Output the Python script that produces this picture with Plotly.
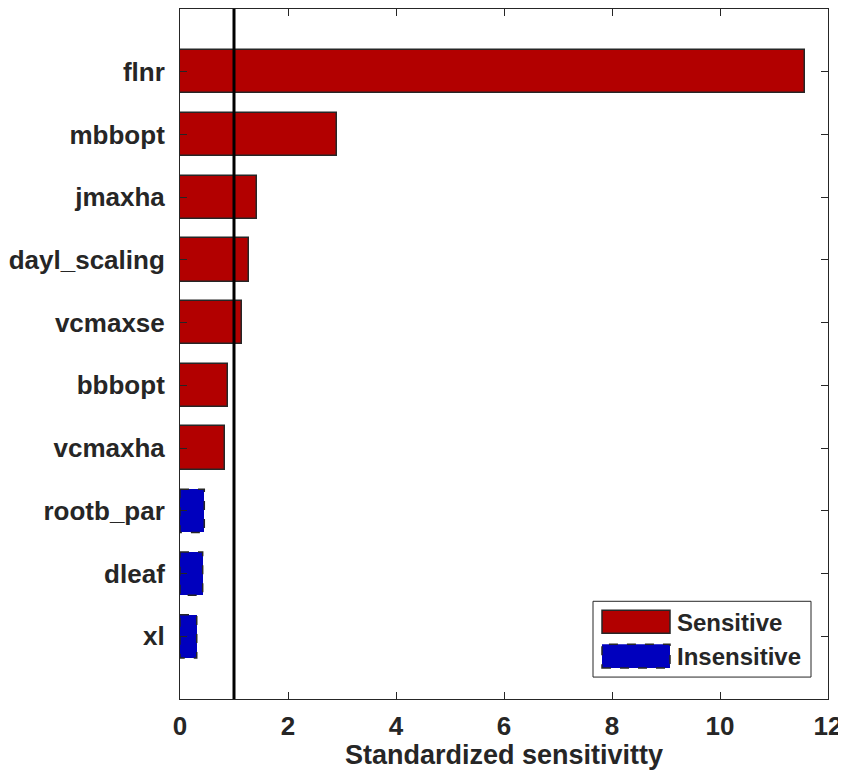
import plotly.graph_objects as go

categories = ["flnr", "mbbopt", "jmaxha", "dayl_scaling", "vcmaxse",
              "bbbopt", "vcmaxha", "rootb_par", "dleaf", "xl"]
sensitivity = [11.57, 2.90, 1.43, 1.27, 1.15, 0.89, 0.83, 0.45, 0.42, 0.31]
threshold = 1.0
x_ticks = [0, 2, 4, 6, 8, 10, 12]

sens_cats = [c for c, v in zip(categories, sensitivity) if v >= threshold * 0.8]
sens_vals = [v for v in sensitivity if v >= threshold * 0.8]
ins_cats = [c for c, v in zip(categories, sensitivity) if v < threshold * 0.8]
ins_vals = [v for v in sensitivity if v < threshold * 0.8]

RED = "rgb(178,0,0)"
BLUE = "rgb(0,0,190)"
EDGE = "rgb(38,38,38)"
BAR_W = 0.69
FONT = dict(family="Liberation Sans, Arial, sans-serif", size=26, color="rgb(38,38,38)", weight="bold")

# the page keeps its default 8px body margin; the figure is sized so the page
# fits the window and the plot area lands where the reference has it
BODY = 8
W, H = 846 - BODY, 778 - 2 * BODY
PL, PR, PT, PB = 180, 828, 8, 700   # plot area in page pixels
ml, mt = PL - BODY, PT - BODY
mr, mb = W - (PR - BODY), H - (PB - BODY)
pw, ph = PR - PL, PB - PT

def px(x):
    return (x - PL) / pw

def py(y):
    return 1 - (y - PT) / ph

fig = go.Figure()
fig.add_trace(go.Bar(y=sens_cats, x=sens_vals, orientation="h", width=BAR_W,
                     marker=dict(color=RED, line=dict(color=EDGE, width=1.5)),
                     name="Sensitive", showlegend=False))
fig.add_trace(go.Bar(y=ins_cats, x=ins_vals, orientation="h", width=BAR_W,
                     marker=dict(color=BLUE, line=dict(color=BLUE, width=0)),
                     name="Insensitive", showlegend=False))

shapes = []
for c, v in zip(ins_cats, ins_vals):
    i = categories.index(c)
    shapes.append(dict(type="rect", xref="x", yref="y", x0=0, x1=v,
                       y0=i - BAR_W / 2, y1=i + BAR_W / 2,
                       line=dict(color=EDGE, width=1.5, dash="dash"),
                       fillcolor="rgba(0,0,0,0)", layer="above"))
shapes.append(dict(type="line", xref="x", yref="paper", x0=threshold, x1=threshold,
                   y0=0, y1=1, line=dict(color="black", width=3), layer="above"))

# legend box
shapes.append(dict(type="rect", xref="paper", yref="paper",
                   x0=px(593), x1=px(811), y0=py(678), y1=py(602),
                   line=dict(color="rgb(38,38,38)", width=1), fillcolor="white", layer="above"))
shapes.append(dict(type="rect", xref="paper", yref="paper",
                   x0=px(602), x1=px(670), y0=py(634), y1=py(611),
                   line=dict(color=EDGE, width=1.5), fillcolor=RED, layer="above"))
shapes.append(dict(type="rect", xref="paper", yref="paper",
                   x0=px(602), x1=px(670), y0=py(669), y1=py(645),
                   line=dict(color=EDGE, width=1.5, dash="dash"), fillcolor=BLUE, layer="above"))

annotations = [
    dict(text="Sensitive", xref="paper", yref="paper", x=px(675), y=py(623),
         xanchor="left", yanchor="middle", showarrow=False, font=dict(FONT, size=24)),
    dict(text="Insensitive", xref="paper", yref="paper", x=px(675), y=py(657),
         xanchor="left", yanchor="middle", showarrow=False, font=dict(FONT, size=24)),
]

fig.update_layout(
    width=W, height=H,
    margin=dict(l=ml, r=mr, t=mt, b=mb, pad=0),
    plot_bgcolor="white", paper_bgcolor="white",
    font=FONT,
    bargap=0,
    shapes=shapes,
    annotations=annotations,
    showlegend=False,
)
fig.update_xaxes(range=[0, 12], tickvals=x_ticks, ticks="inside", ticklen=7,
                 tickcolor="rgb(38,38,38)", showline=True, linecolor="rgb(38,38,38)",
                 linewidth=1, mirror="ticks", showgrid=False, zeroline=False,
                 ticklabelstandoff=4,
                 title=dict(text="Standardized sensitivitty", standoff=10, font=dict(FONT, size=27)),
                 tickfont=FONT)
fig.update_yaxes(type="category", categoryorder="array", categoryarray=categories,
                 range=[10, -1], ticks="inside", ticklen=7,
                 tickcolor="rgb(38,38,38)", showline=True, linecolor="rgb(38,38,38)",
                 linewidth=1, mirror="ticks", showgrid=False, zeroline=False,
                 ticklabelstandoff=9, tickfont=FONT)

fig.write_html("out.html", config={"displayModeBar": False})
